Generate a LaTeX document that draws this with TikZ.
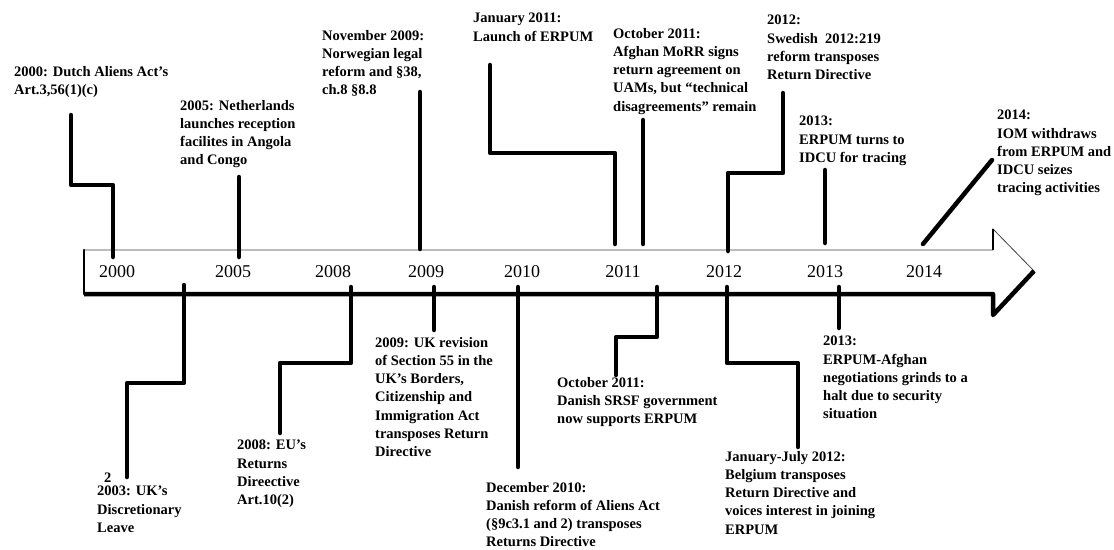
\documentclass[tikz,border=0pt]{standalone}
\usepackage{fontspec}
\setmainfont{Liberation Serif}
\usetikzlibrary{positioning}

\begin{document}
\begin{tikzpicture}[
    x=1pt, y=-1pt,
    event/.style={anchor=north west, inner sep=0pt, align=left, font=\fontsize{14.5}{18.2}\selectfont\bfseries},
    year/.style={inner sep=0pt, font=\fontsize{18}{20}\selectfont},
    conn/.style={line width=4.5pt, line join=round, line cap=round}
]
\useasboundingbox (0,0) rectangle (1114,549);

% Timeline arrow
\path[fill=white, draw=black!75, line width=0.8pt] (84,250) -- (993,250) -- (993,229) -- (1034,271) -- (993,315) -- (993,294) -- (84,294) -- cycle;
\draw[line width=4.5pt, line join=round] (1034,271) -- (993,315) -- (993,294) -- (84,294);
\draw[line width=2.5pt, line cap=round] (84,294) -- (84,250);
\draw[line width=2.5pt] (993,250) -- (993,229);

% Years
\node[year] (y2000) at (117,272) {2000};
\node[year] (y2005) at (233,272) {2005};
\node[year] (y2008) at (333,272) {2008};
\node[year] (y2009) at (426,272) {2009};
\node[year] (y2010) at (522,272) {2010};
\node[year] (y2011) at (623,272) {2011};
\node[year] (y2012) at (724,272) {2012};
\node[year] (y2013) at (825,272) {2013};
\node[year] (y2014) at (924,272) {2014};

% Events above the line
\node[event] (dutch) at (14,66) {2000: Dutch Aliens Act’s\\Art.3,56(1)(c)};
\node[event] (angola) at (180,100) {2005: Netherlands\\launches reception\\facilites in Angola\\and Congo};
\node[event] (norway) at (322,30) {November 2009:\\Norwegian legal\\reform and §38,\\ch.8 §8.8};
\node[event] (launch) at (473,13) {January 2011:\\Launch of ERPUM};
\node[event] (morr) at (613,28) {October 2011:\\Afghan MoRR signs\\return agreement on\\UAMs, but “technical\\disagreements” remain};
\node[event] (sweden) at (767,15) {2012:\\Swedish \ 2012:219\\reform transposes\\Return Directive};
\node[event] (idcu) at (799,116) {2013:\\ERPUM turns to\\IDCU for tracing};
\node[event] (iom) at (997,110) {2014:\\IOM withdraws\\from ERPUM and\\IDCU seizes\\tracing activities};

% Events below the line
\node[event] (stray) at (104,473) {2};
\node[event] (ukleave) at (97,486) {2003: UK’s\\Discretionary\\Leave};
\node[event] (eudir) at (237,440) {2008: EU’s\\Returns\\Direective\\Art.10(2)};
\node[event] (uksec) at (375,337) {2009: UK revision\\of Section 55 in the\\UK’s Borders,\\Citizenship and\\Immigration Act\\transposes Return\\Directive};
\node[event] (dkreform) at (486,482) {December 2010:\\Danish reform of Aliens Act\\(§9c3.1 and 2) transposes\\Returns Directive};
\node[event] (srsf) at (557,377) {October 2011:\\Danish SRSF government\\now supports ERPUM};
\node[event] (belgium) at (725,451) {January-July 2012:\\Belgium transposes\\Return Directive and\\voices interest in joining\\ERPUM};
\node[event] (halt) at (823,336) {2013:\\ERPUM-Afghan\\negotiations grinds to a\\halt due to security\\situation};

% Connector ends
\coordinate (t2000) at (113,257);
\coordinate (t2005) at (239,257);
\coordinate (t2009a) at (420,249);
\coordinate (t2011a) at (615,244);
\coordinate (t2011b) at (643,244);
\coordinate (t2012a) at (728,251);
\coordinate (t2013a) at (825,243);
\coordinate (t2014) at (923,244);
\coordinate (b2003) at (184,285);
\coordinate (b2008) at (351,287);
\coordinate (b2009) at (434,287);
\coordinate (b2010) at (518,287);
\coordinate (b2011) at (657,287);
\coordinate (b2012) at (727,287);
\coordinate (b2013) at (839,287);

\coordinate (dutch-e) at (71,115);
\coordinate (angola-e) at (239,177);
\coordinate (norway-e) at (420,92);
\coordinate (launch-e) at (490,65);
\coordinate (morr-e) at (643,120);
\coordinate (sweden-e) at (783,93);
\coordinate (idcu-e) at (825,170);
\coordinate (iom-e) at (992,160);
\coordinate (ukleave-e) at (127,477);
\coordinate (eudir-e) at (280,433);
\coordinate (uksec-e) at (434,330);
\coordinate (dkreform-e) at (518,467);
\coordinate (srsf-e) at (616,375);
\coordinate (belgium-e) at (798,447);
\coordinate (halt-e) at (839,328);

% Connectors
\draw[conn] (dutch-e) -- ++(0,70) -| (t2000);
\draw[conn] (angola-e) -- (t2005);
\draw[conn] (norway-e) -- (t2009a);
\draw[conn] (launch-e) -- ++(0,88) -| (t2011a);
\draw[conn] (morr-e) -- (t2011b);
\draw[conn] (sweden-e) -- ++(0,80) -| (t2012a);
\draw[conn] (idcu-e) -- (t2013a);
\draw[conn] (t2014) -- (iom-e);
\draw[conn] (b2003) -- ++(0,98) -| (ukleave-e);
\draw[conn] (b2008) -- ++(0,76) -| (eudir-e);
\draw[conn] (b2009) -- (uksec-e);
\draw[conn] (b2010) -- (dkreform-e);
\draw[conn] (b2011) -- ++(0,50) -| (srsf-e);
\draw[conn] (b2012) -- ++(0,76) -| (belgium-e);
\draw[conn] (b2013) -- (halt-e);

\end{tikzpicture}
\end{document}
